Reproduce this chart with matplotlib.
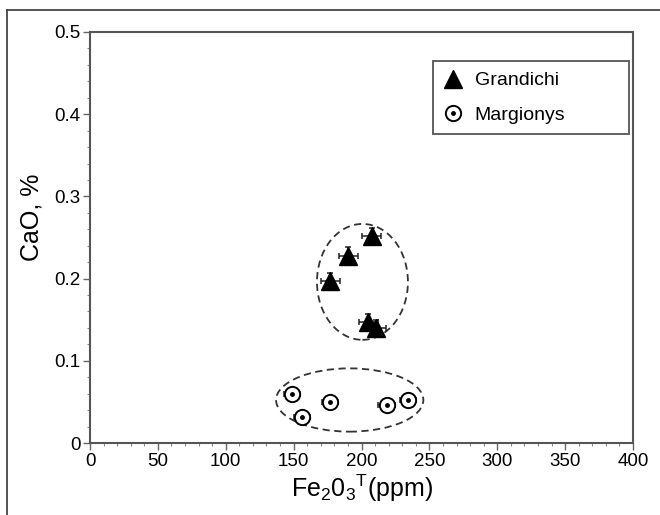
import matplotlib
matplotlib.use('Agg')
import matplotlib.pyplot as plt
from matplotlib.patches import Ellipse
from matplotlib.lines import Line2D
from matplotlib.ticker import MultipleLocator

plt.rcParams['font.family'] = ['Liberation Sans', 'DejaVu Sans']
plt.rcParams['mathtext.fontset'] = 'custom'
plt.rcParams['mathtext.rm'] = 'Liberation Sans'
plt.rcParams['mathtext.it'] = 'Liberation Sans'

# Grandichi samples
gr_fe = [207.5, 190.3, 176.8, 205.0, 211.0]
gr_ca = [0.252, 0.228, 0.197, 0.147, 0.140]
gr_fe_err = [7, 7, 7, 7, 7]
gr_ca_err = [0.010, 0.010, 0.010, 0.010, 0.010]

# Margionys samples
mg_fe = [148.6, 156.0, 176.8, 218.5, 234.5]
mg_ca = [0.060, 0.032, 0.050, 0.046, 0.052]
mg_fe_err = [6, 6, 6, 6, 6]
mg_ca_err = [0.004, 0.004, 0.004, 0.004, 0.004]

# group ellipses: centre x, centre y, width, height
gr_ell = (200.7, 0.196, 67, 0.141)
mg_ell = (191.3, 0.0523, 108.5, 0.077)

xticks = [0, 50, 100, 150, 200, 250, 300, 350, 400]
yticks = [0, 0.1, 0.2, 0.3, 0.4, 0.5]
ytick_labels = ['0', '0.1', '0.2', '0.3', '0.4', '0.5']

fig = plt.figure(figsize=(6.6, 5.15), dpi=100)
ax = fig.add_axes([90/660, 1 - 443/515, 543/660, 411/515])

ax.errorbar(gr_fe, gr_ca, xerr=gr_fe_err, yerr=gr_ca_err, fmt='none',
            ecolor='#222', elinewidth=1.1, capsize=2.2, capthick=1.1, zorder=2)
ax.plot(gr_fe, gr_ca, ls='none', marker='^', ms=12.5, mfc='black', mec='black', zorder=3)

ax.errorbar(mg_fe, mg_ca, xerr=mg_fe_err, yerr=mg_ca_err, fmt='none',
            ecolor='#222', elinewidth=1.1, capsize=2.2, capthick=1.1, zorder=2)
ax.plot(mg_fe, mg_ca, ls='none', marker='o', ms=11, mfc='white', mec='black', mew=1.4, zorder=3)
ax.plot(mg_fe, mg_ca, ls='none', marker='o', ms=2.5, mfc='black', mec='black', zorder=4)

for cx, cy, w, h in [gr_ell, mg_ell]:
    ax.add_patch(Ellipse((cx, cy), w, h, fill=False, ec='#333', lw=1.3,
                         ls=(0, (4, 2.5)), zorder=1))

ax.set_xlim(0, 400)
ax.set_ylim(0, 0.5)
ax.set_xticks(xticks)
ax.set_yticks(yticks)
ax.set_yticklabels(ytick_labels)
ax.xaxis.set_minor_locator(MultipleLocator(10))
ax.yaxis.set_minor_locator(MultipleLocator(0.02))
ax.tick_params(which='major', direction='out', length=5, width=1, color='#666',
               labelsize=13.5, pad=2)
ax.tick_params(which='minor', direction='out', length=2.5, width=0.8, color='#888')
for s in ax.spines.values():
    s.set_color('#555')
    s.set_linewidth(1.5)

ax.set_xlabel(r'Fe$_2$0$_3$$^\mathregular{T}$(ppm)', fontsize=18, labelpad=2)
ax.set_ylabel('CaO, %', fontsize=18)
ax.yaxis.set_label_coords(-0.086, 0.55)

h_gr = Line2D([], [], ls='none', marker='^', ms=12.5, mfc='black', mec='black')
h_mg1 = Line2D([], [], ls='none', marker='o', ms=11, mfc='white', mec='black', mew=1.4)
h_mg2 = Line2D([], [], ls='none', marker='o', ms=2.5, mfc='black', mec='black')
leg = ax.legend([h_gr, (h_mg1, h_mg2)], ['Grandichi', 'Margionys'],
                loc='upper left', bbox_to_anchor=(0.6317, 0.5, 0.3609, 0.429),
                mode='expand', borderaxespad=0, fontsize=14, handlelength=1.0,
                handletextpad=0.6, borderpad=0.55, labelspacing=0.85,
                fancybox=False, framealpha=1, edgecolor='#555')
leg.get_frame().set_linewidth(1.3)

# outer border of the figure panel
fig.add_artist(Line2D([7/660, 7/660], [0, 1 - 10/515], color='#444', lw=1.3))
fig.add_artist(Line2D([7/660, 1], [1 - 10/515, 1 - 10/515], color='#444', lw=1.3))

fig.savefig('out.png', dpi=100)
